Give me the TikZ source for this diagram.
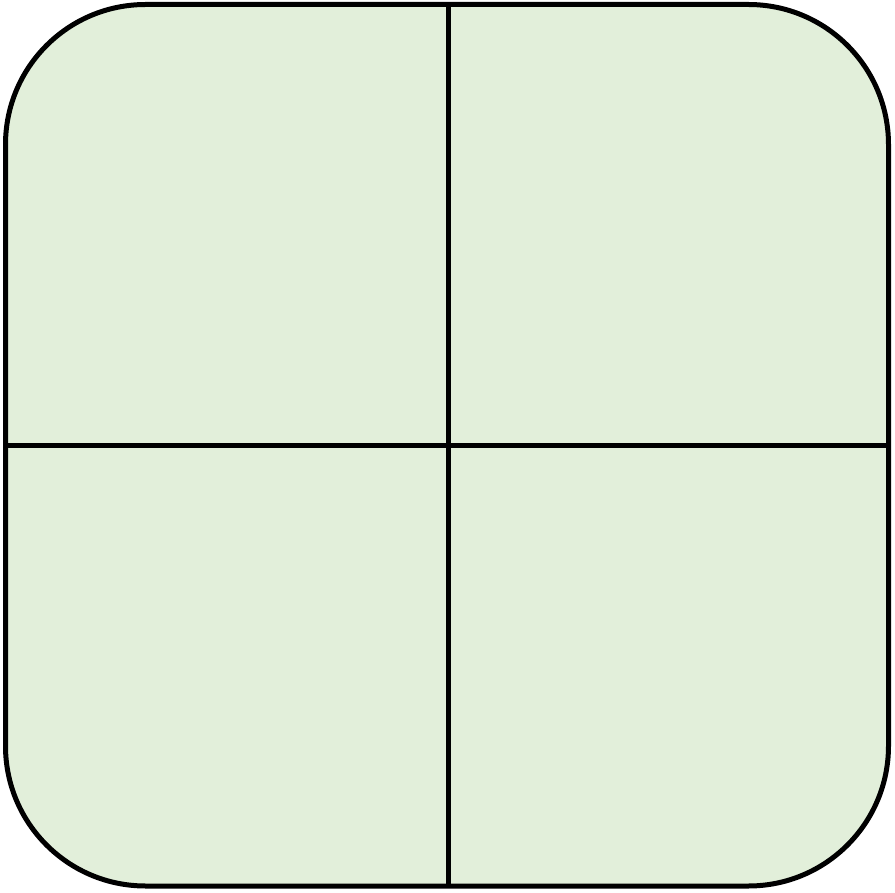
\documentclass[tikz,border=0pt]{standalone}
\definecolor{cellgreen}{RGB}{226,239,218}
\begin{document}
\begin{tikzpicture}[x=1pt,y=-1pt,
  outline/.style={draw=black,line width=5pt,fill=cellgreen,rounded corners=140pt},
  divider/.style={draw=black,line width=5pt}]
\useasboundingbox (0,0) rectangle (895,893);
\draw[outline] (5.5,4.5) rectangle (888.5,886);
\coordinate (top) at (448,4.5);
\coordinate (bottom) at (448,886);
\coordinate (left) at (5.5,445.5);
\coordinate (right) at (888.5,445.5);
\draw[divider] (top) -- (bottom);
\draw[divider] (left) -- (right);
\end{tikzpicture}
\end{document}
